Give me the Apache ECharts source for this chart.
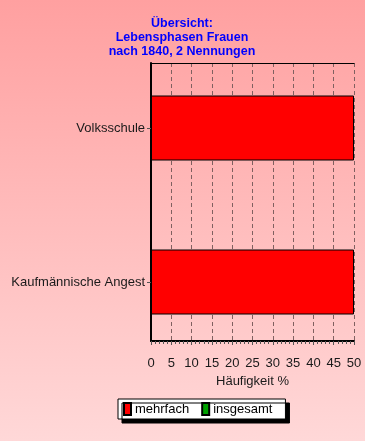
<!DOCTYPE html>
<html><head><meta charset="utf-8">
<script src="https://cdn.jsdelivr.net/npm/echarts@6/dist/echarts.min.js"></script>
<style>html,body{margin:0;padding:0;}#c{width:365px;height:441px;}</style>
</head><body><div id="c"></div>
<script>
var categories = ['Volksschule', 'Kaufmännische Angest'];
var mehrfach = [50, 50];
var insgesamt = [null, null];
var seriesNames = ['mehrfach', 'insgesamt'];
var titleLines = ['Übersicht:', 'Lebensphasen Frauen', 'nach 1840, 2 Nennungen'];
var axisName = 'Häufigkeit %';

var FONT = 'Liberation Sans, Arial';
var chart = echarts.init(document.getElementById('c'));
chart.setOption({
  animation: false,
  backgroundColor: {type:'linear', x:0, y:0, x2:0, y2:1, colorStops:[{offset:0,color:'#ffa0a0'},{offset:1,color:'#ffd8d8'}]},
  title: {
    text: titleLines.join('\n'), left: 177, top: 12, textAlign: 'center',
    textStyle: {color:'#0000ff', fontSize: 12.5, fontWeight:'bold', fontFamily: FONT, lineHeight: 14}
  },
  legend: {
    data: seriesNames, left: 118, top: 399, orient:'horizontal',
    backgroundColor:'#ffffff', borderColor:'#000', borderWidth:1,
    shadowColor:'#000', shadowOffsetX:4, shadowOffsetY:4, shadowBlur:0,
    padding:[3,13,3,5], itemGap:12, itemWidth:7, itemHeight:12, icon:'rect',
    textStyle:{color:'#000', fontSize:13, fontFamily: FONT, padding:[0,0,0,-1]}
  },
  grid: [
    {left:151, right:11, top:63, bottom:100, containLabel:false},
    {left:151, right:11, top:51, bottom:82, containLabel:false}
  ],
  xAxis: [{
    gridIndex:0, type:'value', min:0, max:50, interval:5, position:'bottom',
    name: axisName, nameLocation:'middle', nameGap:33,
    nameTextStyle:{color:'#1a1a1a', fontSize:13, fontFamily: FONT},
    axisLine:{show:true, lineStyle:{color:'#000', width:2}},
    axisTick:{show:true, length:4, lineStyle:{color:'#555'}},
    minorTick:{show:true, splitNumber:5, length:3, lineStyle:{color:'#555'}},
    axisLabel:{color:'#1a1a1a', fontSize:13, fontFamily: FONT, margin:16},
    splitLine:{show:true, lineStyle:{color:'#806060', type:[4,3], width:1}}
  },{
    gridIndex:0, type:'value', min:0, max:50, position:'top',
    axisLine:{show:true, lineStyle:{color:'#000', width:1}},
    axisTick:{show:false}, axisLabel:{show:false}, splitLine:{show:false}
  },{
    gridIndex:1, type:'value', min:0, max:50, show:false
  }],
  yAxis: [{
    gridIndex:0, type:'value', min:0, max:1,
    axisLine:{show:true, lineStyle:{color:'#000', width:2}},
    axisTick:{show:false}, axisLabel:{show:false}, splitLine:{show:false}
  },{
    gridIndex:1, type:'category', data: categories, inverse:true,
    axisLine:{show:false},
    axisTick:{show:true, alignWithLabel:true, length:4, lineStyle:{color:'#555'}},
    axisLabel:{color:'#1a1a1a', fontSize:13, fontFamily: FONT, margin:6}
  }],
  series: [
    {name:seriesNames[0], type:'bar', xAxisIndex:2, yAxisIndex:1, data:mehrfach, barWidth:65, barGap:'-100%',
     itemStyle:{color:'#ff0000', borderColor:'#000', borderWidth:1}},
    {name:seriesNames[1], type:'bar', xAxisIndex:2, yAxisIndex:1, data:insgesamt, barWidth:65,
     itemStyle:{color:'#00a000', borderColor:'#000', borderWidth:1}}
  ]
});
</script></body></html>
